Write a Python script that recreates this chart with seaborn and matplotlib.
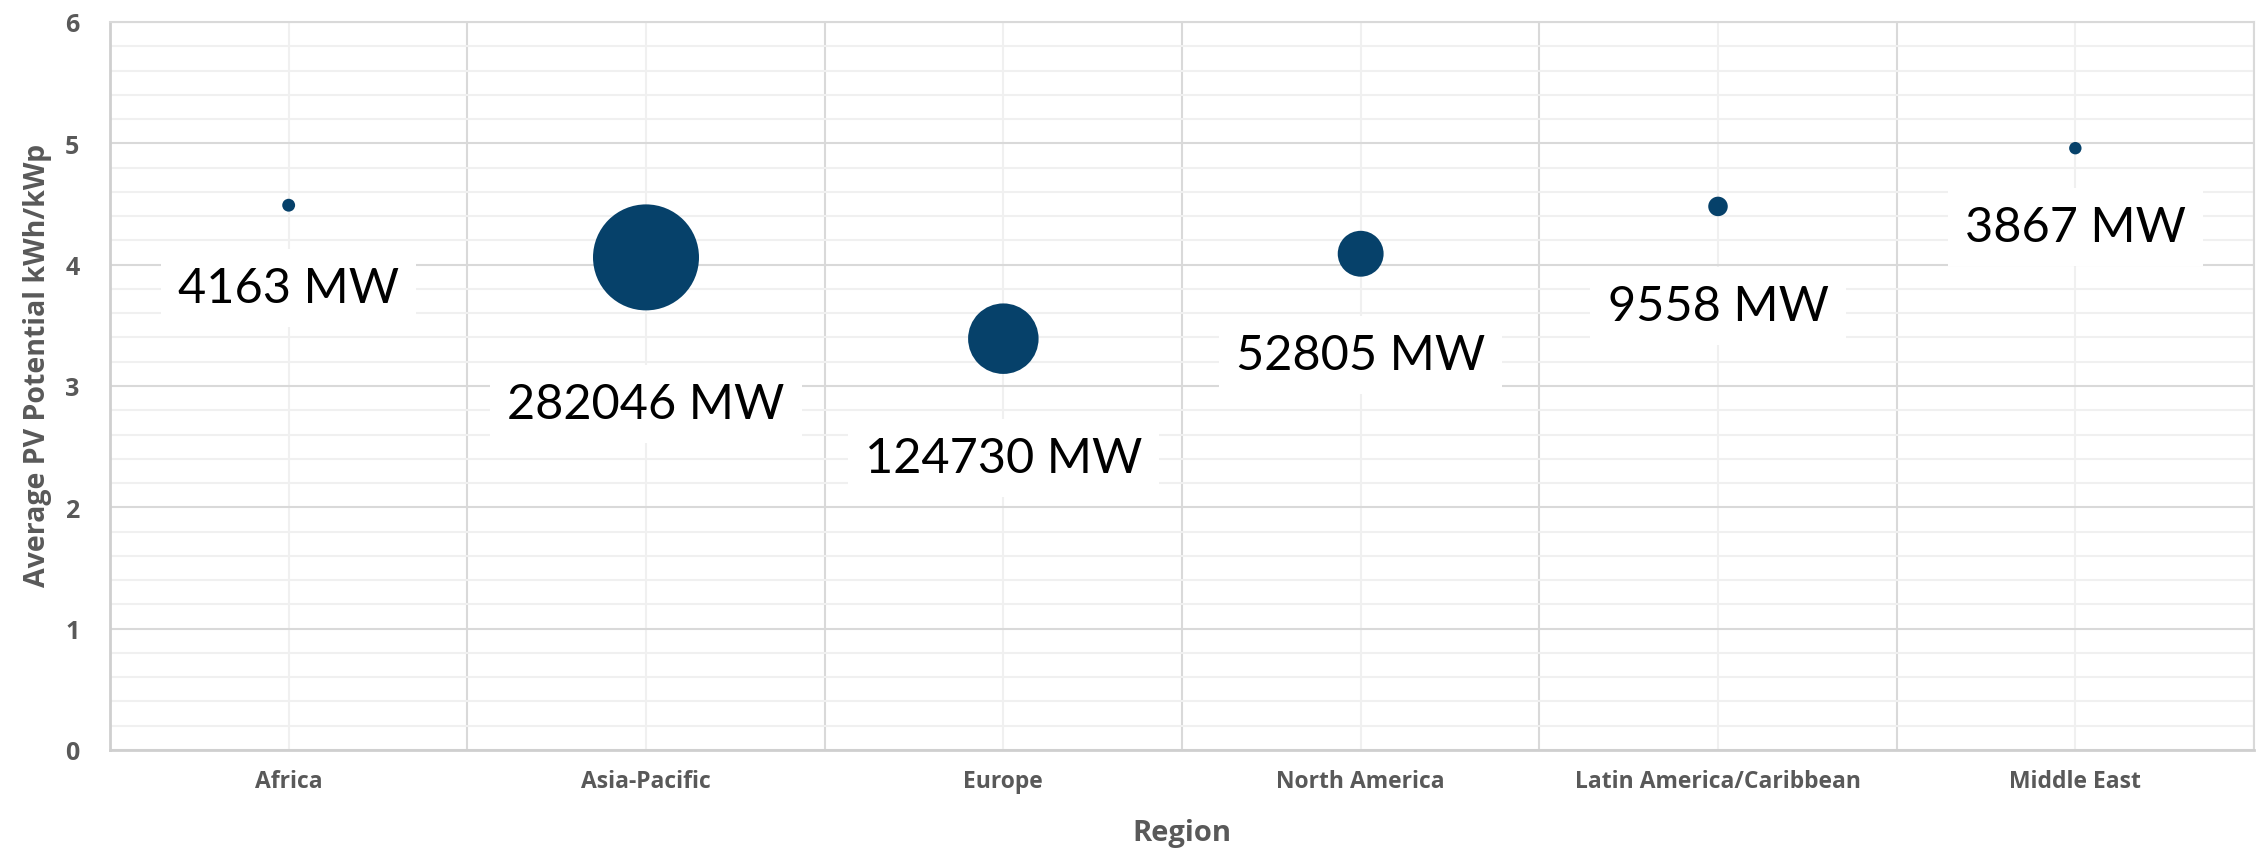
import numpy as np
import pandas as pd
import matplotlib
matplotlib.use("Agg")
import matplotlib.pyplot as plt
from matplotlib.ticker import MultipleLocator, FixedLocator, NullFormatter
import seaborn as sns

# --- data -------------------------------------------------------------
regions = ["Africa", "Asia-Pacific", "Europe", "North America",
           "Latin America/Caribbean", "Middle East"]
pv_potential = [4.49, 4.06, 3.39, 4.09, 4.48, 4.96]      # kWh/kWp
capacity_mw = [4163, 282046, 124730, 52805, 9558, 3867]   # installed MW

# vertical drop (px) from bubble centre to the centre of its label
label_drop_px = [83, 147, 119, 101, 100, 79]

DPI = 100
sns.set_theme(style="white")
plt.rcParams["font.family"] = ["Lato", "DejaVu Sans"]
AXIS_FONT = ["Open Sans", "DejaVu Sans"]

df = pd.DataFrame({
    "pos": np.arange(len(regions)) + 0.5,
    "pv": pv_potential,
    "mw": capacity_mw,
    "region": regions,
})

fig = plt.figure(figsize=(22.67, 8.53), dpi=DPI)
ax = fig.add_axes([110 / 2267, 1 - 751 / 853, (2254 - 110) / 2267, (751 - 23) / 853])

# bubble area proportional to capacity; largest bubble radius ~53 px
max_r_pt = 53 * 72 / DPI
max_area = (2 * max_r_pt) ** 2
sns.scatterplot(data=df, x="pos", y="pv", size="mw",
                sizes=(0, max_area), size_norm=(0, max(capacity_mw)),
                color="#06416a", linewidth=0, legend=False, ax=ax, zorder=4)

ax.set_xlim(0, len(regions))
ax.set_ylim(0, 6)

# gridlines: category borders darker, category centres lighter
ax.xaxis.set_major_locator(FixedLocator(np.arange(0, len(regions) + 1)))
ax.xaxis.set_major_formatter(NullFormatter())
ax.set_xticks(df["pos"], labels=regions, minor=True)
ax.yaxis.set_major_locator(MultipleLocator(1))
ax.yaxis.set_minor_locator(MultipleLocator(0.2))

ax.grid(which="major", color="#d9d9d9", linewidth=1.5, zorder=0)
ax.grid(which="minor", color="#f0f0f0", linewidth=1.5, zorder=0)
ax.set_axisbelow(True)

for side in ["top", "right"]:
    ax.spines[side].set_visible(True)
    ax.spines[side].set_color("#d9d9d9")
    ax.spines[side].set_linewidth(1.5)
for side in ["left", "bottom"]:
    ax.spines[side].set_color("#cfcfcf")
    ax.spines[side].set_linewidth(2)

tick_color = "#595959"
ax.tick_params(axis="both", which="both", length=0)
ax.tick_params(axis="y", which="major", pad=22, labelcolor=tick_color)
ax.tick_params(axis="x", which="minor", pad=14, labelcolor=tick_color)
for lbl in ax.get_yticklabels():
    lbl.set_fontfamily(AXIS_FONT)
    lbl.set_fontweight("bold")
    lbl.set_fontsize(18)
for lbl in ax.get_xticklabels(minor=True):
    lbl.set_fontfamily(AXIS_FONT)
    lbl.set_fontweight("bold")
    lbl.set_fontsize(16.5)

ax.set_xlabel("Region", fontsize=21, fontweight="bold", color=tick_color,
              family=AXIS_FONT, labelpad=18)
ax.set_ylabel("Average PV Potential kWh/kWp", fontsize=20.5, fontweight="bold",
              color=tick_color, family=AXIS_FONT)
ax.yaxis.set_label_coords(-0.027, 0.529)

# value labels in white boxes beneath each bubble
for x, y, mw, drop in zip(df["pos"], pv_potential, capacity_mw, label_drop_px):
    ax.annotate(f"{mw} MW", xy=(x, y), xytext=(0, -drop * 72 / DPI),
                textcoords="offset points", ha="center", va="center",
                fontsize=35, color="black", zorder=5,
                bbox=dict(boxstyle="square,pad=0.35", facecolor="white",
                          edgecolor="none"))

fig.savefig("out.png", dpi=DPI, facecolor="white")
